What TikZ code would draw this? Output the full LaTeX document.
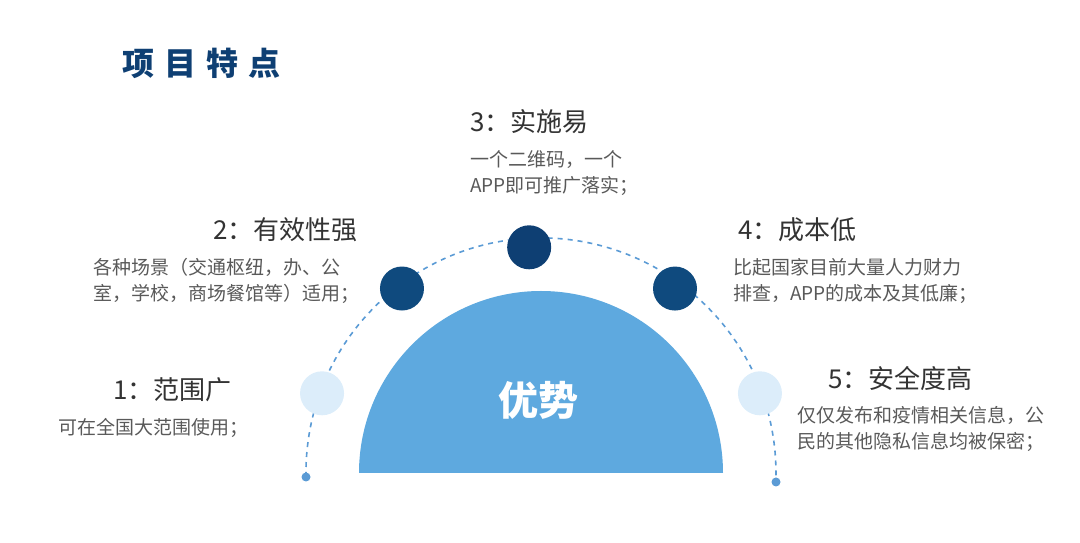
\documentclass[tikz,border=0pt]{standalone}
\usepackage{fontspec}
\usetikzlibrary{calc}
\setmainfont{Noto Sans CJK SC}
\definecolor{navy}{HTML}{0E3F73}
\definecolor{darkc}{HTML}{0F4A7E}
\definecolor{lightc}{HTML}{DCEDFA}
\definecolor{semi}{HTML}{5EA9DF}
\definecolor{dashc}{HTML}{5B9BD5}
\definecolor{txt}{HTML}{595959}
\definecolor{head}{HTML}{333333}
\tikzset{
  dot/.style={circle,minimum size=44pt,inner sep=0pt},
  headtxt/.style={anchor=west,inner sep=0pt,text=head,font=\fontsize{26pt}{30pt}\selectfont},
  desctxt/.style={anchor=north west,inner sep=0pt,text=txt,align=left,font=\fontsize{19pt}{26pt}\selectfont},
}
\begin{document}
\begin{tikzpicture}[x=1pt,y=1pt]
\useasboundingbox (0,0) rectangle (1080,543);
\coordinate (c) at (541,70);
% semicircle
\fill[semi] (359,70) arc[start angle=180,end angle=0,radius=182] -- cycle;
\node[text=white,font=\fontsize{40pt}{44pt}\selectfont\bfseries] (adv) at (538,143) {优势};
% dashed arc
\draw[dashc,line width=1.6pt,dash pattern=on 5pt off 5pt] (306,66) arc[start angle=181,end angle=-2,radius=235];
\node[circle,fill=dashc,minimum size=9pt,inner sep=0pt] (e1) at (306,66) {};
\node[circle,fill=dashc,minimum size=9pt,inner sep=0pt] (e2) at (776,61) {};
% circles
\node[dot,fill=lightc] (d1) at ($(c)+(160:233)$) {};
\node[dot,fill=darkc] (d2) at ($(c)+(127:231)$) {};
\node[dot,fill=navy] (d3) at ($(c)+(93:226)$) {};
\node[dot,fill=darkc] (d4) at ($(c)+(54:228)$) {};
\node[dot,fill=lightc] (d5) at ($(c)+(20:233)$) {};
% title
\node[anchor=west,inner sep=0pt,text=navy,font=\fontsize{32pt}{36pt}\selectfont\bfseries] (title) at (122,480) {项\hspace{10pt}目\hspace{10pt}特\hspace{10pt}点};
% texts
\node[headtxt] (h1) at (113,153) {1：范围广};
\node[desctxt] (t1) at (58,125) {可在全国大范围使用；};
\node[headtxt] (h2) at (213,313) {2：有效性强};
\node[desctxt] (t2) at (93,285) {各种场景（交通枢纽，办、公\\室，学校，商场餐馆等）适用；};
\node[headtxt] (h3) at (470,421) {3：实施易};
\node[desctxt] (t3) at (470,393) {一个二维码，一个\\APP即可推广落实；};
\node[headtxt] (h4) at (738,313) {4：成本低};
\node[desctxt] (t4) at (733,285) {比起国家目前大量人力财力\\排查，APP的成本及其低廉；};
\node[headtxt] (h5) at (828,165) {5：安全度高};
\node[desctxt] (t5) at (797,137) {仅仅发布和疫情相关信息，公\\民的其他隐私信息均被保密；};
\end{tikzpicture}
\end{document}
